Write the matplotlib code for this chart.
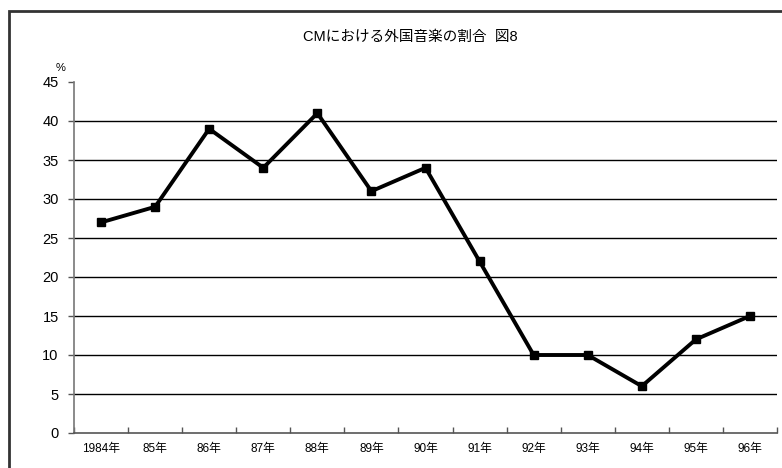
import matplotlib
matplotlib.use("Agg")
import matplotlib.pyplot as plt
from matplotlib.patches import Rectangle

plt.rcParams['font.family'] = ['Liberation Sans', 'Noto Sans CJK JP', 'DejaVu Sans']

categories = ["1984年", "85年", "86年", "87年", "88年", "89年", "90年",
              "91年", "92年", "93年", "94年", "95年", "96年"]
values = [27, 29, 39, 34, 41, 31, 34, 22, 10, 10, 6, 12, 15]
yticks = [0, 5, 10, 15, 20, 25, 30, 35, 40, 45]
title = "CMにおける外国音楽の割合  図8"

fig = plt.figure(figsize=(7.82, 4.68), dpi=100)
fig.patch.set_facecolor("white")
fig.patches.append(Rectangle((9/782, -0.1), 1.0, 1 - 11/468 + 0.1,
                             transform=fig.transFigure, fill=False,
                             edgecolor="#333333", linewidth=2.0))

ax = fig.add_axes([74/782, 1 - 433/468, (777 - 74)/782, (433 - 82)/468])
n = len(categories)
x = [i + 0.5 for i in range(n)]
for v in yticks[1:-1]:
    ax.axhline(v, color="black", linewidth=1.0, zorder=1)
ax.plot(x, values, color="black", linewidth=2.8, marker="s",
        markersize=6, zorder=3)

ax.set_xlim(0, n)
ax.set_ylim(0, 45)
ax.set_yticks(yticks)
ax.set_yticklabels([str(v) for v in yticks], fontsize=10.5)
ax.set_xticks(range(n + 1))
ax.set_xticklabels([])
ax.set_xticks(x, minor=True)
ax.set_xticklabels(categories, minor=True, fontsize=8.5)
ax.tick_params(axis="x", which="major", direction="in", length=4,
               color="#555555", width=1)
ax.tick_params(axis="x", which="minor", length=0, pad=7)
ax.tick_params(axis="y", direction="out", length=4, color="#555555",
               width=1, pad=7)
for s in ["top", "right"]:
    ax.spines[s].set_visible(False)
ax.spines["left"].set_color("#777777")
ax.spines["bottom"].set_color("#555555")
ax.spines["left"].set_linewidth(1.2)
ax.spines["bottom"].set_linewidth(1.2)

fig.text(410/782, 1 - 37/468, title, ha="center", va="center", fontsize=10.5)
fig.text(61/782, 1 - 68/468, "%", ha="center", va="center", fontsize=8)

fig.savefig("out.png", dpi=100)
